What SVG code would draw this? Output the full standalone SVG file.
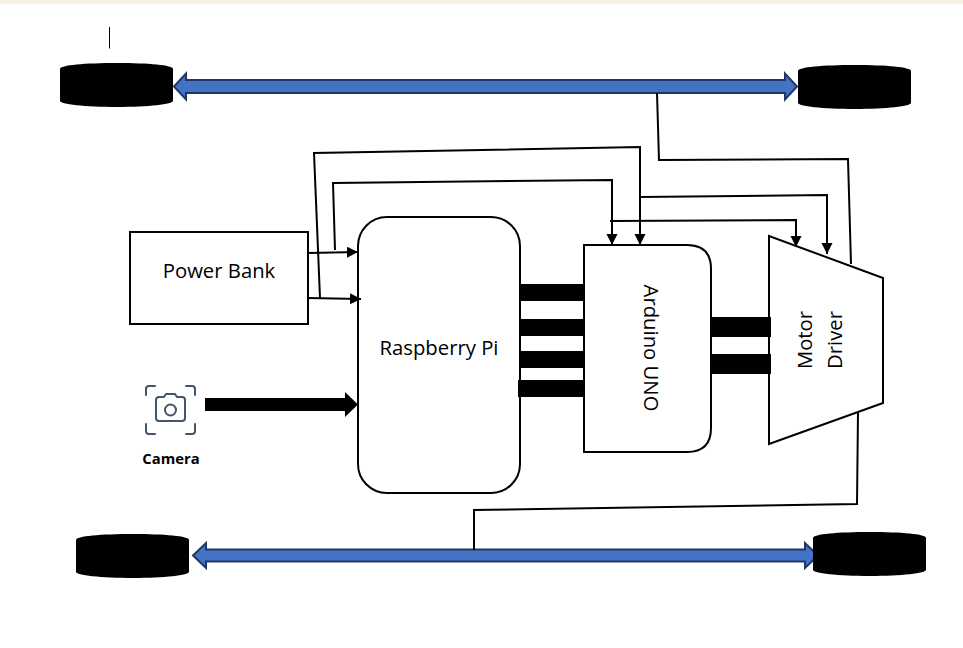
<svg xmlns="http://www.w3.org/2000/svg" width="963" height="648" viewBox="0 0 963 648">
<style>
.box{fill:#fff;stroke:#000;stroke-width:2}
.wire{fill:none;stroke:#000;stroke-width:2}
.bus{fill:#000;stroke:none}
.dbl{fill:#4472c4;stroke:#1f3864;stroke-width:2;stroke-linejoin:miter}
.wheel{fill:#000}
.lbl{font-family:"Open Sans","Noto Sans","Liberation Sans",sans-serif;font-size:20.300px;fill:#000;text-anchor:middle}
.icon{fill:none;stroke:#44546a;stroke-width:2;stroke-linecap:round;stroke-linejoin:round}
</style>
<defs>
<marker id="ah" markerUnits="userSpaceOnUse" markerWidth="12" markerHeight="12" refX="11" refY="5.500" orient="auto"><path d="M0,0L11,5.500L0,11Z" fill="#000"/></marker>
<path id="w" d="M0,6C0,2 25,0 57,0C88,0 113,2 113,6V38C113,41 88,44 57,44C25,44 0,41 0,38Z"/>
</defs>
<rect width="963" height="2" fill="#fdf3d0"/>
<rect y="2" width="963" height="2" fill="#f3f3f3"/>
<path d="M109.500,27V48.500" stroke="#000" stroke-width="1" fill="none"/>

<g id="axle-top"><path class="dbl" d="M174,86.500L186,73.500V80H785V73.500L797,86.500L785,99.500V93H186V99.500Z"/></g>
<g id="axle-bottom"><path class="dbl" d="M193,555.500L206,543V549.500H805V543L818,555.500L805,568V561.500H206V568Z"/></g>

<g id="wheel-top-left"><use href="#w" x="60" y="63" class="wheel"/></g>
<g id="wheel-top-right"><use href="#w" x="798" y="65" class="wheel"/></g>
<g id="wheel-bottom-left"><use href="#w" x="76" y="534" class="wheel"/></g>
<g id="wheel-bottom-right"><use href="#w" x="813" y="532" class="wheel"/></g>

<g id="power-bank"><rect class="box" x="130" y="232" width="178" height="92"/><text class="lbl" x="219" y="277.500">Power Bank</text></g>
<g id="raspberry-pi"><rect class="box" x="358" y="217" width="162" height="276" rx="29" ry="29"/><text class="lbl" x="439" y="354.500">Raspberry Pi</text></g>
<g id="arduino-uno"><path class="box" d="M584,245H687Q711,245 711,269V428Q711,452 687,452H584Z"/><text class="lbl" transform="translate(643.500,348) rotate(90)">Arduino UNO</text></g>
<g id="motor-driver"><path class="box" d="M769,236L883,278V403L769,444Z"/><text class="lbl" transform="translate(811.500,340) rotate(-90)">Motor</text><text class="lbl" transform="translate(842,340) rotate(-90)">Driver</text></g>
<g id="camera">
<path class="icon" d="M146,395V389Q146,386 149,386H155M186,386H192Q195,386 195,389V395M195,424V431Q195,434 192,434H186M155,434H149Q146,434 146,431V424"/>
<path class="icon" d="M156,400Q156,397 159,397H164L166,394H175L177,397H182Q185,397 185,400V418Q185,421 182,421H159Q156,421 156,418Z"/>
<circle class="icon" cx="170.500" cy="410" r="5.500"/>
<text x="171" y="464" font-family="'Open Sans','Noto Sans','Liberation Sans',sans-serif" font-size="14.800" font-weight="700" text-anchor="middle" fill="#000">Camera</text>
</g>

<g id="connectors">
<path class="bus" d="M205,398H345V392L358,404.500L345,417V411H205Z"/>
<rect class="bus" x="520" y="284" width="64" height="17"/>
<rect class="bus" x="520" y="319" width="64" height="17"/>
<rect class="bus" x="520" y="351" width="64" height="17"/>
<rect class="bus" x="518" y="380" width="66" height="17"/>
<rect class="bus" x="711" y="317" width="60" height="20"/>
<rect class="bus" x="711" y="354" width="60" height="20"/>
<path class="wire" d="M308,253L358,252" marker-end="url(#ah)"/>
<path class="wire" d="M308,298L361,299" marker-end="url(#ah)"/>
<path class="wire" d="M320,298L314,153L640,147V245" marker-end="url(#ah)"/>
<path class="wire" d="M335,250L333,183L612,180V245" marker-end="url(#ah)"/>
<path class="wire" d="M610,221L796,220V247" marker-end="url(#ah)"/>
<path class="wire" d="M640,197L827,195V254" marker-end="url(#ah)"/>
<path class="wire" d="M657,93L659,160L848,159L851,264"/>
<path class="wire" d="M858,412L857,504L474,510V550"/>
</g>
</svg>
